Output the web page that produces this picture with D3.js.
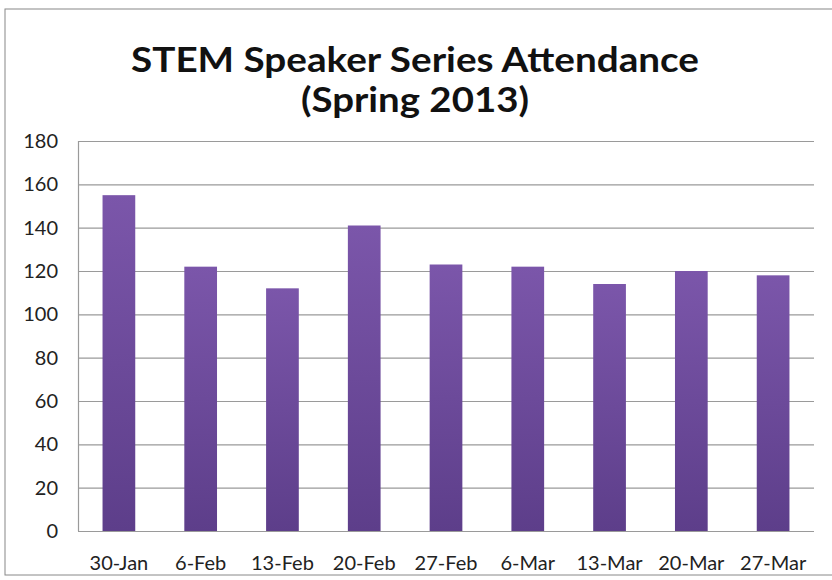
<!DOCTYPE html>
<html><head><meta charset="utf-8">
<script src="https://cdn.jsdelivr.net/npm/d3@7"></script>
<style>body{margin:0;background:#fff}svg{display:block}</style>
</head><body>
<svg id="c" width="832" height="580"></svg>
<script>
const categories = ["30-Jan","6-Feb","13-Feb","20-Feb","27-Feb","6-Mar","13-Mar","20-Mar","27-Mar"];
const attendance = [155,122,112,141,123,122,114,120,118];
const yTicks = [0,20,40,60,80,100,120,140,160,180];
const titleLines = ["STEM Speaker Series Attendance","(Spring 2013)"];

const svg = d3.select("#c");
const m = {left:78, right:814, top:141, bottom:531};
svg.append("rect").attr("x",5).attr("y",9).attr("width",840).attr("height",566)
  .attr("fill","#fff").attr("stroke","#888").attr("stroke-width",1);

const defs = svg.append("defs");
const g = defs.append("linearGradient").attr("id","bg").attr("x1",0).attr("y1",0).attr("x2",0).attr("y2",1);
g.append("stop").attr("offset","0%").attr("stop-color","#7b56aa");
g.append("stop").attr("offset","100%").attr("stop-color","#5d3e8a");

const x = d3.scaleBand().domain(categories).range([m.left,m.right]).paddingInner(0.6).paddingOuter(0.3);
const y = d3.scaleLinear().domain([0,180]).range([m.bottom,m.top]);

svg.append("g").selectAll("line").data(yTicks).join("line")
  .attr("x1",m.left).attr("x2",m.right).attr("y1",d=>y(d)+0.5).attr("y2",d=>y(d)+0.5)
  .attr("stroke","#9a9a9a").attr("stroke-width",1.2);
svg.append("line").attr("x1",m.left+0.5).attr("x2",m.left+0.5).attr("y1",m.top).attr("y2",m.bottom)
  .attr("stroke","#9a9a9a").attr("stroke-width",1.2);

svg.append("g").selectAll("rect").data(attendance).join("rect")
  .attr("x",(d,i)=>x(categories[i])).attr("width",x.bandwidth())
  .attr("y",d=>y(d)).attr("height",d=>y(0)-y(d)).attr("fill","url(#bg)");

const yAxis = svg.append("g").attr("transform",`translate(${m.left},0)`)
  .call(d3.axisLeft(y).tickValues(yTicks).tickSize(0).tickPadding(20));
yAxis.select(".domain").remove();
yAxis.selectAll("text").attr("font-family","Lato, sans-serif").attr("font-size",20).attr("fill","#222");

const xAxis = svg.append("g").attr("transform",`translate(0,${m.bottom})`)
  .call(d3.axisBottom(x).tickSize(0).tickPadding(25));
xAxis.select(".domain").remove();
xAxis.selectAll("text").attr("font-family","Lato, sans-serif").attr("font-size",20).attr("fill","#222");

svg.append("g").selectAll("text").data(titleLines).join("text")
  .attr("x",415).attr("y",(d,i)=>72+i*40).attr("text-anchor","middle")
  .attr("font-family","Lato, sans-serif").attr("font-weight","bold").attr("font-size",34).attr("fill","#111")
  .attr("textLength",(d,i)=>i===0?568:228).attr("lengthAdjust","spacingAndGlyphs")
  .text(d=>d);
</script>
</body></html>
